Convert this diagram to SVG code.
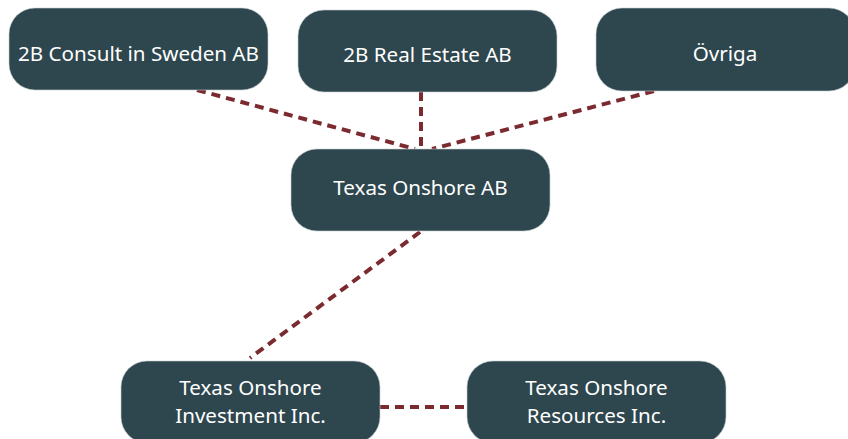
<svg xmlns="http://www.w3.org/2000/svg" width="848" height="439" viewBox="0 0 848 439">
<style>
.box{fill:#2e474e;stroke:#c9d0d2;stroke-width:0.6}
.lbl{fill:#ffffff;font-family:"Noto Sans","Liberation Sans",Arial,sans-serif;font-size:20.6px;text-anchor:middle}
.con{stroke:#7b2a2f;stroke-width:4;stroke-dasharray:9 6;fill:none}
</style>
<rect width="848" height="439" fill="#ffffff"/>
<g id="connectors">
<line class="con" x1="197" y1="90" x2="415" y2="149"/>
<line class="con" x1="421" y1="92" x2="421" y2="149"/>
<line class="con" x1="654" y1="91" x2="432" y2="149"/>
<line class="con" x1="420" y1="232" x2="250" y2="358"/>
<line class="con" x1="380" y1="407" x2="467" y2="407"/>
</g>
<g id="n1"><rect class="box" x="9" y="8" width="259" height="82" rx="26"/><text class="lbl" x="138.5" y="61">2B Consult in Sweden AB</text></g>
<g id="n2"><rect class="box" x="298" y="10" width="259" height="82" rx="26"/><text class="lbl" x="427.5" y="62">2B Real Estate AB</text></g>
<g id="n3"><rect class="box" x="596" y="8" width="259" height="83" rx="26"/><text class="lbl" x="725" y="61">Övriga</text></g>
<g id="n4"><rect class="box" x="291" y="149" width="259" height="82" rx="26"/><text class="lbl" x="420.5" y="195">Texas Onshore AB</text></g>
<g id="n5"><rect class="box" x="121" y="361" width="259" height="82" rx="26"/><text class="lbl" x="250.5" y="395">Texas Onshore</text><text class="lbl" x="250.5" y="423">Investment Inc.</text></g>
<g id="n6"><rect class="box" x="467" y="361" width="259" height="82" rx="26"/><text class="lbl" x="596.5" y="395">Texas Onshore</text><text class="lbl" x="596.5" y="423">Resources Inc.</text></g>
</svg>
